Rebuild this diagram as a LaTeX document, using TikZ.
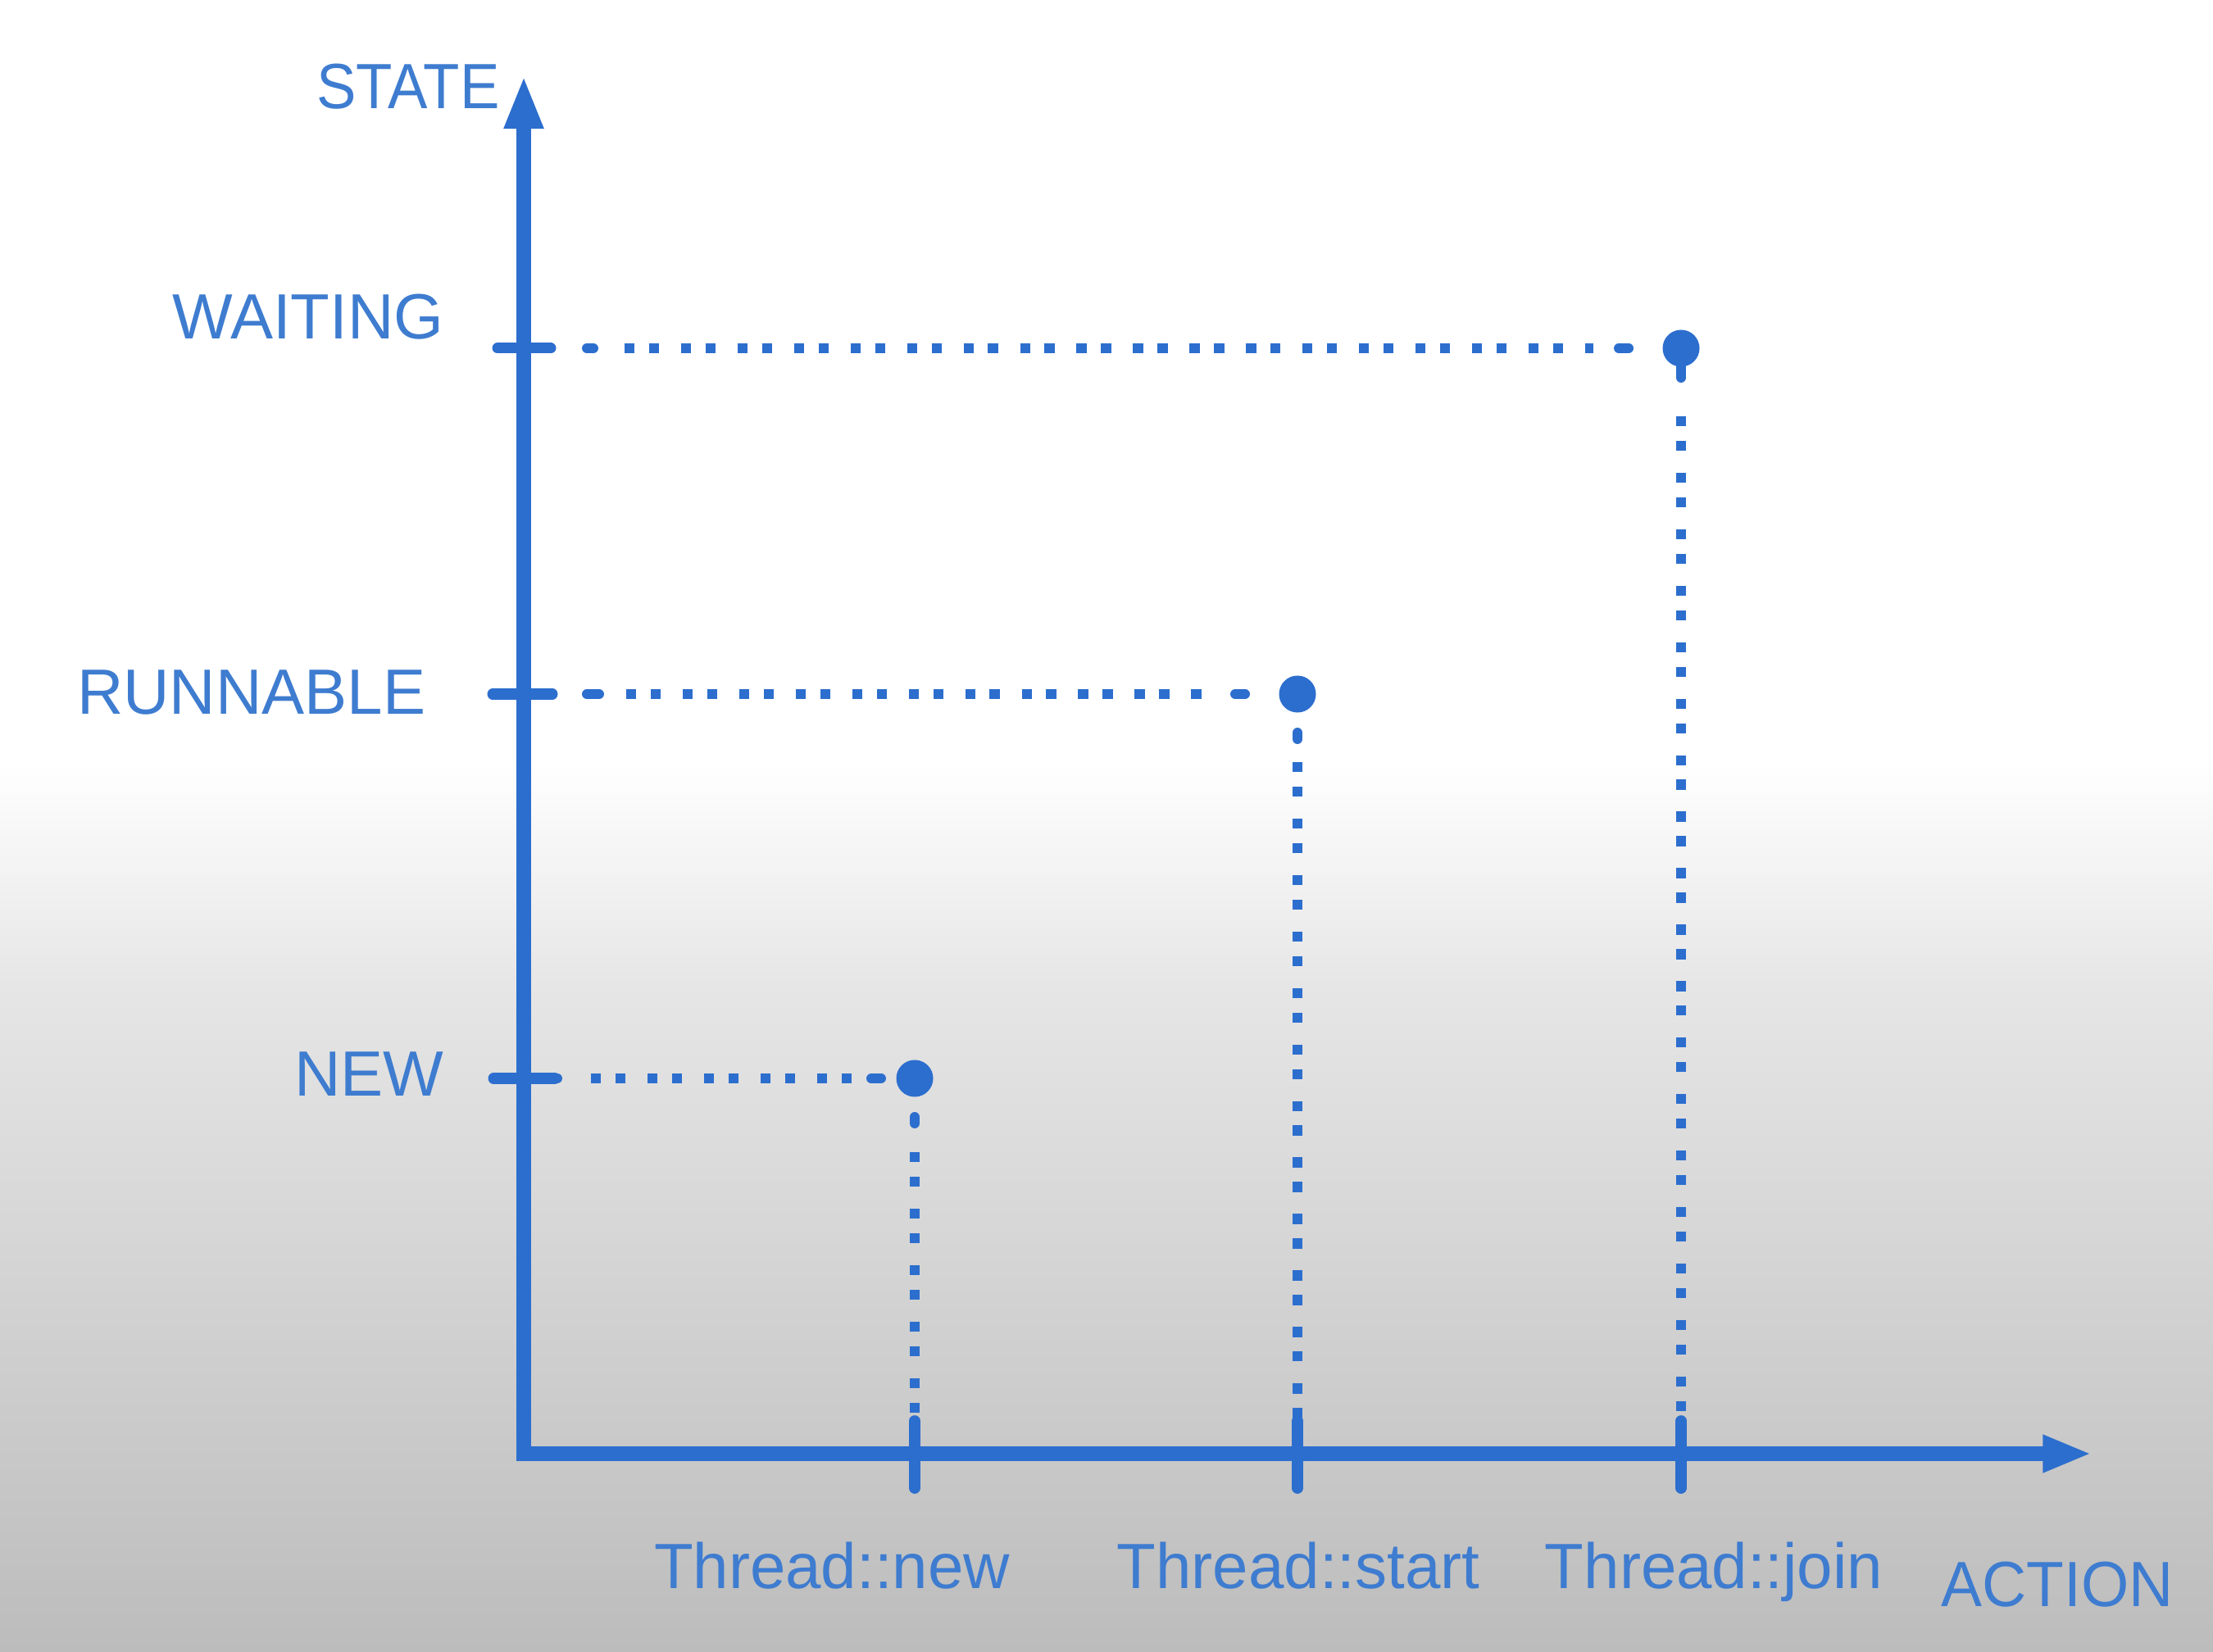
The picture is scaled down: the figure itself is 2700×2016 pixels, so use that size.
\documentclass[tikz,border=0pt]{standalone}
\usepackage{fontspec}
\setmainfont{Liberation Sans}
\usetikzlibrary{arrows.meta}
\definecolor{axisblue}{RGB}{44,110,206}
\definecolor{labelblue}{RGB}{62,124,208}
\definecolor{bgmid}{RGB}{230,230,230}
\definecolor{bgbot}{RGB}{188,188,188}
\tikzset{
  axisline/.style={draw=axisblue, line width=5.1pt},
  ytickmark/.style={draw=axisblue, line width=3.7pt, line cap=round},
  xtickmark/.style={draw=axisblue, line width=3.9pt, line cap=round},
  dotline/.style={draw=axisblue, line width=3.4pt, line cap=butt,
    dash pattern=on 3.5pt off 5.0pt on 3.5pt off 7.6pt},
  stub/.style={draw=axisblue, line width=3.4pt, line cap=round},
  statedot/.style={circle, fill=axisblue, inner sep=0pt, minimum size=0.45cm},
  lbl/.style={text=labelblue, font=\fontsize{22.2}{26}\selectfont, inner sep=0pt},
}
\begin{document}
\begin{tikzpicture}[x=0.01cm,y=-0.01cm]
% background
\fill[white] (0,0) rectangle (2700,932);
\shade[top color=white,bottom color=bgmid] (0,930) rectangle (2700,1202);
\shade[top color=bgmid,bottom color=bgbot] (0,1200) rectangle (2700,2016);
\useasboundingbox (0,0) rectangle (2700,2016);

% axes
\coordinate (O) at (639,1774);
\coordinate (Obot) at (639,1783);
\coordinate (Oleft) at (630,1774);
\coordinate (ytop) at (639,92);
\coordinate (xend) at (2552,1774);
\draw[axisline, -{Triangle[length=18.5pt,width=12.5pt]}] (Obot) -- (ytop);
\draw[axisline, -{Triangle[length=17pt,width=12pt]}] (Oleft) -- (xend);

% y ticks
\coordinate (tW1) at (607,425);  \coordinate (tW2) at (672,425);
\coordinate (tR1) at (601,847);  \coordinate (tR2) at (674,847);
\coordinate (tN1) at (602,1316); \coordinate (tN2) at (677,1316);
\draw[ytickmark] (tW1) -- (tW2);
\draw[ytickmark] (tR1) -- (tR2);
\draw[ytickmark] (tN1) -- (tN2);

% x ticks
\coordinate (bN) at (1116,1734); \coordinate (eN) at (1116,1816);
\coordinate (bR) at (1583,1734); \coordinate (eR) at (1583,1816);
\coordinate (bW) at (2051,1734); \coordinate (eW) at (2051,1816);
\draw[xtickmark] (bN) -- (eN);
\draw[xtickmark] (bR) -- (eR);
\draw[xtickmark] (bW) -- (eW);

% state dots
\node[statedot] (dW) at (2051,425) {};
\node[statedot] (dR) at (1583,847) {};
\node[statedot] (dN) at (1116,1316) {};

% horizontal dotted connectors
\draw[dotline, shorten <=25.6pt, shorten >=23.9pt] (tW2) -- (dW);
\draw[dotline, shorten <=25.6pt, shorten >=23.9pt] (tR2) -- (dR);
\draw[dotline, shorten <=12.5pt, shorten >=10pt] (tN2) -- (dN);

% start / end stubs on horizontal lines
\draw[stub] (716,425) -- (724,425);
\draw[stub] (716,847) -- (731,847);
\draw[stub] (660,1316) -- (680,1316);
\draw[stub] (1975,425) -- (1987,425);
\draw[stub] (1507,847) -- (1519,847);
\draw[stub] (1063,1316) -- (1075,1316);

% vertical dotted connectors
\draw[dotline, shorten <=17pt] (dW) -- (bW);
\draw[dotline, shorten <=17pt] (dR) -- (bR);
\draw[dotline, shorten <=19pt] (dN) -- (bN);

% stubs below dots
\draw[stub] (2051,440) -- (2051,461);
\draw[stub] (1583,894) -- (1583,902);
\draw[stub] (1116,1363) -- (1116,1371);

% labels
\node[lbl, anchor=base, xscale=0.93] (lState) at (498,133) {STATE};
\node[lbl, anchor=base east] (lWait) at (542,414) {WAITING};
\node[lbl, anchor=base east] (lRun) at (520,872) {RUNNABLE};
\node[lbl, anchor=base east] (lNew) at (542,1337) {NEW};
\node[lbl, anchor=base] (aNew) at (1015,1938) {Thread::new};
\node[lbl, anchor=base] (aStart) at (1584,1938) {Thread::start};
\node[lbl, anchor=base] (aJoin) at (2091,1938) {Thread::join};
\node[lbl, anchor=base, xscale=0.96] (lAction) at (2510,1960) {ACTION};
\end{tikzpicture}
\end{document}
